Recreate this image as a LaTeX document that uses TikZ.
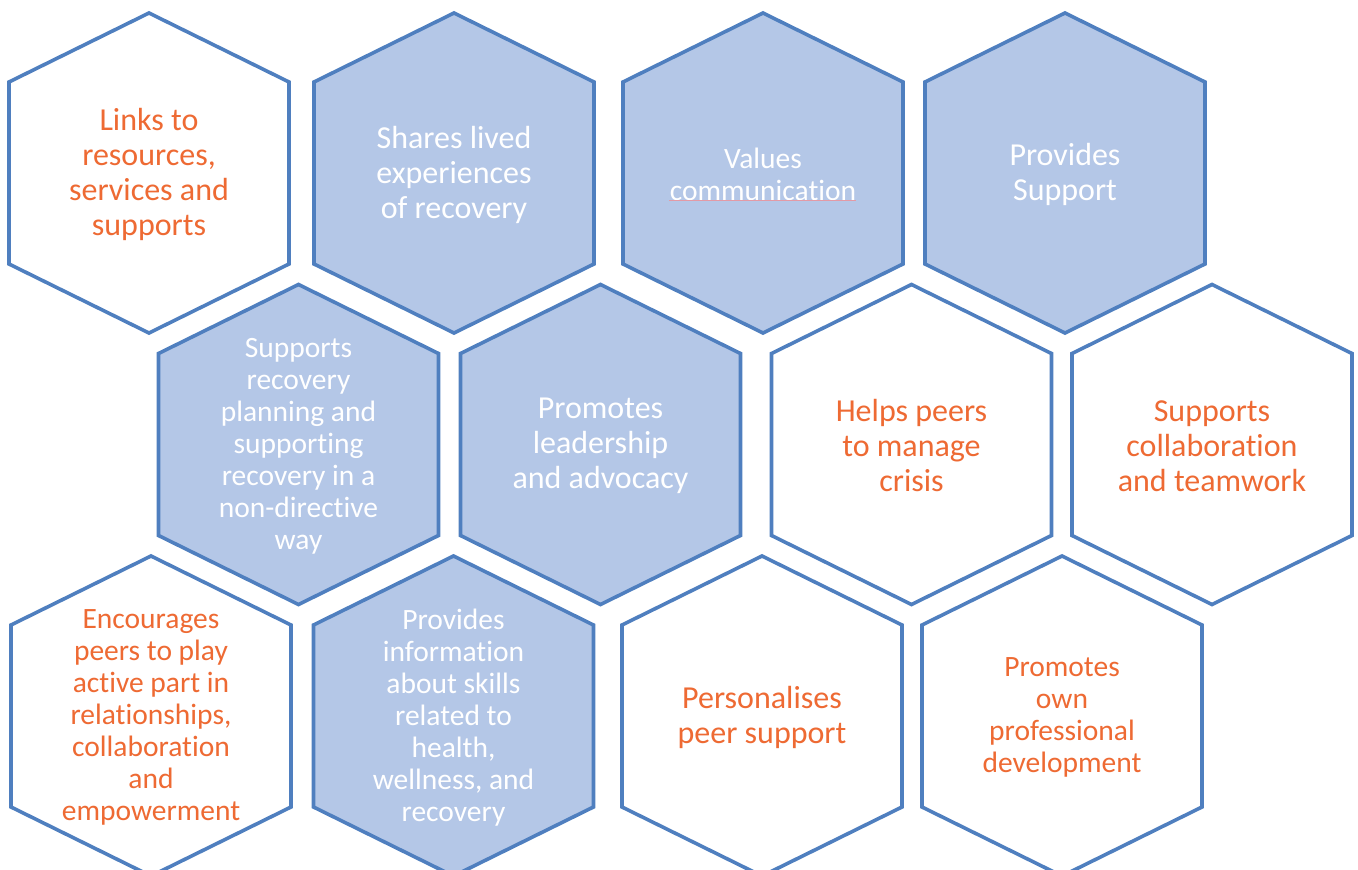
\documentclass[tikz,border=0pt]{standalone}
\usepackage{fontspec}
\setmainfont{Carlito}[Ligatures=NoCommon]
\definecolor{hexstroke}{HTML}{4F7FBF}
\definecolor{hexfill}{HTML}{B4C7E7}
\definecolor{hexorange}{HTML}{EE6A33}
\definecolor{spellred}{HTML}{E39AA6}
\tikzset{
  hexline/.style={draw=hexstroke, line width=3.6pt, line join=miter},
  filledhex/.style={fill=hexfill},
  plainhex/.style={fill=white},
  whitetext/.style={text=white, align=center, inner sep=0pt},
  orangetext/.style={text=hexorange, align=center, inner sep=0pt},
  bigtext/.style={font=\fontsize{32}{35}\selectfont},
  smalltext/.style={font=\fontsize{29.5}{32}\selectfont},
}
% name, x, y, hex style, text style, text
\newcommand\hexcell[6]{%
  \draw[hexline,#4] (#2,#3-160) -- (#2+140,#3-91) -- (#2+140,#3+91) -- (#2,#3+160)
    -- (#2-140,#3+91) -- (#2-140,#3-91) -- cycle;
  \node[#5] (#1) at (#2,#3+1.5) {#6};
}
\begin{document}
\begin{tikzpicture}[x=1pt,y=-1pt]
\useasboundingbox (0,0) rectangle (1358,870);
\begin{scope}
\clip (0,0) rectangle (1358,870);
% row 1
\hexcell{links}{149}{173}{plainhex}{orangetext,bigtext}{Links to\\resources,\\services and\\supports}
\hexcell{shares}{454}{173}{filledhex}{whitetext,bigtext}{Shares lived\\experiences\\of recovery}
\hexcell{values}{763}{173}{filledhex}{whitetext,smalltext}{Values\\communication}
\hexcell{provsup}{1065}{173}{filledhex}{whitetext,bigtext}{Provides\\Support}
% row 2
\hexcell{planning}{298.5}{444.5}{filledhex}{whitetext,smalltext}{Supports\\recovery\\planning and\\supporting\\recovery in a\\non-directive\\way}
\hexcell{leader}{600.5}{444.5}{filledhex}{whitetext,bigtext}{Promotes\\leadership\\and advocacy}
\hexcell{crisis}{911.5}{444.5}{plainhex}{orangetext,bigtext}{Helps peers\\to manage\\crisis}
\hexcell{collab}{1212}{444.5}{plainhex}{orangetext,bigtext}{Supports\\collaboration\\and teamwork}
% row 3
\hexcell{encour}{151}{716}{plainhex}{orangetext,smalltext}{Encourages\\peers to play\\active part in\\relationships,\\collaboration\\and\\empowerment}
\hexcell{info}{453.5}{716}{filledhex}{whitetext,smalltext}{Provides\\information\\about skills\\related to\\health,\\wellness, and\\recovery}
\hexcell{personal}{762}{716}{plainhex}{orangetext,bigtext}{Personalises\\peer support}
\hexcell{profdev}{1062}{716}{plainhex}{orangetext,smalltext}{Promotes\\own\\professional\\development}
\end{scope}
% spell-check underline under "communication"
\coordinate (ulA) at (669,200.5);
\coordinate (ulB) at (856,200.5);
\draw[spellred, line width=1pt] (ulA) -- (ulB);
\end{tikzpicture}
\end{document}
